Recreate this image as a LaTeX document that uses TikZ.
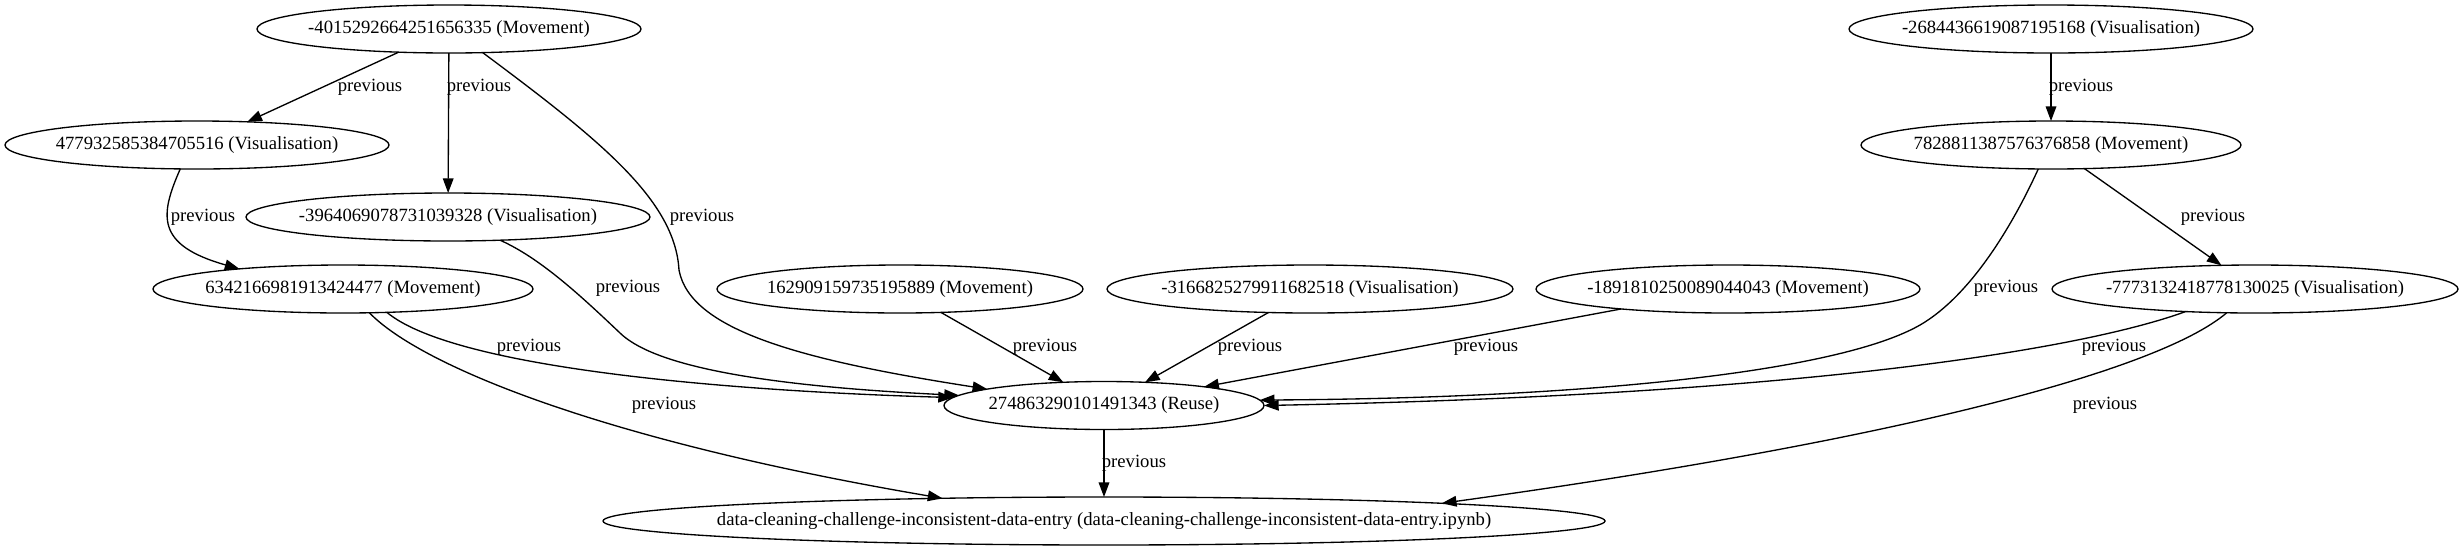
\documentclass[tikz,border=0pt]{standalone}
\usepackage{fontspec}
\setmainfont{Liberation Serif}
\usetikzlibrary{arrows.meta,shapes.geometric}
\newcommand{\nt}[1]{\makebox[0pt][c]{#1}}
\begin{document}
\begin{tikzpicture}[x=0.75pt,y=-0.75pt,
  gn/.style={draw, ellipse, inner sep=0pt, outer sep=0pt, minimum height=36pt,
             font=\fontsize{14}{16}\selectfont, line width=1pt},
  ed/.style={draw, line width=1pt, -{Triangle[length=11pt,width=8pt]}},
  lb/.style={font=\fontsize{14}{16}\selectfont, inner sep=0pt}]
\useasboundingbox (0,0) rectangle (2464,551);
% nodes
\node[gn, minimum width=288pt]   (A) at (449,29)    {\nt{-4015292664251656335 (Movement)}};
\node[gn, minimum width=288pt]   (B) at (197,145)   {\nt{477932585384705516 (Visualisation)}};
\node[gn, minimum width=303pt]   (C) at (448,217)   {\nt{-3964069078731039328 (Visualisation)}};
\node[gn, minimum width=285pt]   (D) at (343,289)   {\nt{6342166981913424477 (Movement)}};
\node[gn, minimum width=274.5pt] (E) at (900,289)   {\nt{162909159735195889 (Movement)}};
\node[gn, minimum width=304.5pt] (F) at (1310,289)  {\nt{-3166825279911682518 (Visualisation)}};
\node[gn, minimum width=288pt]   (G) at (1728,289)  {\nt{-1891810250089044043 (Movement)}};
\node[gn, minimum width=303pt]   (H) at (2051,29)   {\nt{-2684436619087195168 (Visualisation)}};
\node[gn, minimum width=285pt]   (I) at (2051,145)  {\nt{7828811387576376858 (Movement)}};
\node[gn, minimum width=304.5pt] (J) at (2255,289)  {\nt{-7773132418778130025 (Visualisation)}};
\node[gn, minimum width=240pt]   (K) at (1104,405.5){\nt{274863290101491343 (Reuse)}};
\node[gn, minimum width=751.5pt] (L) at (1104,521)  {\nt{data-cleaning-challenge-inconsistent-data-entry (data-cleaning-challenge-inconsistent-data-entry.ipynb)}};
% straight edges
\draw[ed] (A) -- (B) node[lb] at (370,87) {previous};
\draw[ed] (A) -- (C) node[lb] at (479,87) {previous};
\draw[ed] (H) -- (I) node[lb] at (2081,87) {previous};
\draw[ed] (I) -- (J) node[lb] at (2213,217) {previous};
\draw[ed] (E) -- (K) node[lb] at (1045,347) {previous};
\draw[ed] (F) -- (K) node[lb] at (1250,347) {previous};
\draw[ed] (G) -- (K) node[lb] at (1486,347) {previous};
\draw[ed] (K) -- (L) node[lb] at (1134,463) {previous};
% curved edges
\draw[ed] (A.-35.6) .. controls (600,140) and (675,200) .. (679,270)
          .. controls (690,330) and (800,360) .. (K.172.2)
          node[lb] at (702,217) {previous};
\draw[ed] (B.-125) .. controls (160,215) and (155,245) .. (D.169.9)
          node[lb] at (203,217) {previous};
\draw[ed] (C.-24) .. controls (540,258) and (580,295) .. (620,333)
          .. controls (650,362) and (740,385) .. (K.176)
          node[lb] at (628,288) {previous};
\draw[ed] (D.-28.6) .. controls (450,365) and (700,390) .. (K.177)
          node[lb] at (529,347) {previous};
\draw[ed] (D.-42.5) .. controls (420,365) and (600,440) .. (L.172)
          node[lb] at (664,405) {previous};
\draw[ed] (I.-118) .. controls (2015,220) and (1975,290) .. (1925,322)
          .. controls (1850,370) and (1600,398) .. (K.2)
          node[lb] at (2006,288) {previous};
\draw[ed] (J.-162.4) .. controls (2080,350) and (1800,395) .. (K.0.5)
          node[lb] at (2114,347) {previous};
\draw[ed] (J.-140.7) .. controls (2160,370) and (1900,440) .. (L.3.1)
          node[lb] at (2105,405) {previous};
\end{tikzpicture}
\end{document}
